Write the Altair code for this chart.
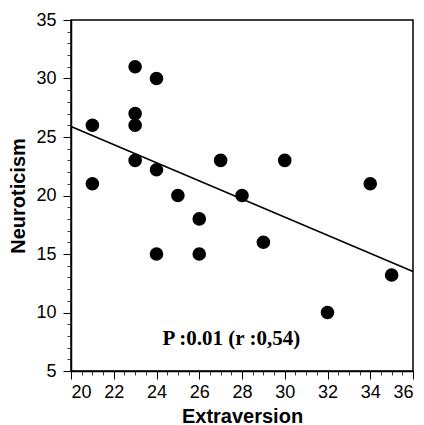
import altair as alt
import pandas as pd

extraversion = [21, 21, 23, 23, 23, 23, 24, 24, 24, 25, 26, 26, 27, 28, 29, 30, 32, 34, 35]
neuroticism = [26, 21, 31, 27, 26, 23, 30, 22.2, 15, 20, 18, 15, 23, 20, 16, 23, 10, 21, 13.2]

fit_x = [20, 36]
fit_y = [25.9, 13.5]

note_x = [27.5]
note_y = [7.7]
note_text = ["P :0.01 (r :0,54)"]

x_major = list(range(20, 37, 2))
y_major = list(range(5, 36, 5))
x_minor = [20 + 0.5 * i for i in range(33)]
y_minor = list(range(5, 36))

pts = pd.DataFrame({"x": extraversion, "y": neuroticism})
fit = pd.DataFrame({"x": fit_x, "y": fit_y})
note = pd.DataFrame({"x": note_x, "y": note_y, "t": note_text})

xs = alt.Scale(domain=[20, 36], nice=False, zero=False)
ys = alt.Scale(domain=[5, 35], nice=False, zero=False)

xaxis = alt.Axis(values=x_major, title="Extraversion", titlePadding=5, orient="bottom",
                 tickSize=8, labelPadding=4)
yaxis = alt.Axis(values=y_major, title="Neuroticism", titlePadding=7, orient="left",
                 tickSize=8, labelPadding=7)
xminor = alt.Axis(values=x_minor, title=None, labels=False, domain=False, orient="bottom",
                  tickSize=4, tickWidth=0.8)
yminor = alt.Axis(values=y_minor, title=None, labels=False, domain=False, orient="left",
                  tickSize=4, tickWidth=0.8)

line = alt.Chart(fit).mark_line(color="black", strokeWidth=1.5).encode(
    x=alt.X("x:Q", scale=xs, axis=xminor),
    y=alt.Y("y:Q", scale=ys, axis=yminor),
)

points = alt.Chart(pts).mark_circle(size=185, color="black", opacity=1).encode(
    x=alt.X("x:Q", scale=xs, axis=xaxis),
    y=alt.Y("y:Q", scale=ys, axis=yaxis),
)

text = alt.Chart(note).mark_text(
    font="Liberation Serif", fontSize=21, fontWeight="bold", color="black"
).encode(
    x=alt.X("x:Q", scale=xs, axis=None),
    y=alt.Y("y:Q", scale=ys, axis=None),
    text="t:N",
)

chart = (
    alt.layer(line, points, text)
    .resolve_axis(x="independent", y="independent")
    .properties(
        width=342,
        height=351,
        padding={"left": 63, "top": 12, "right": 3, "bottom": 54},
        autosize=alt.AutoSizeParams(type="none"),
    )
    .configure_view(stroke="black", strokeWidth=1.5)
    .configure_axis(
        grid=False,
        domainColor="black",
        domainWidth=1.5,
        tickColor="black",
        labelFont="Liberation Sans",
        labelFontSize=18,
        labelColor="black",
        titleFont="Liberation Sans",
        titleFontSize=20,
        titleFontWeight="bold",
        titleColor="black",
    )
)

chart.save("out.html", embed_options={"renderer": "svg", "actions": False})
